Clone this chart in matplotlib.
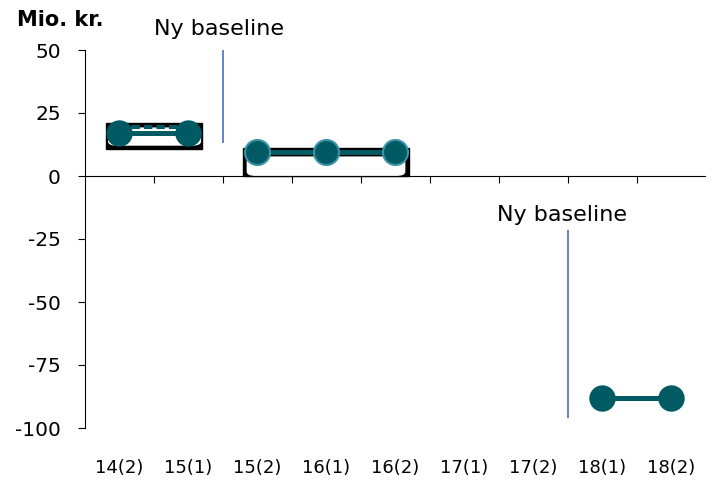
import matplotlib.pyplot as plt
from matplotlib.patches import Rectangle, FancyBboxPatch

plt.rcParams['font.family'] = ['DejaVu Sans']
plt.rcParams['axes.unicode_minus'] = False

cats = ["14(2)", "15(1)", "15(2)", "16(1)", "16(2)", "17(1)", "17(2)", "18(1)", "18(2)"]
seg1 = [17, 17]          # 14(2) - 15(1)
seg2 = [9.5, 9.5, 9.5]   # 15(2) - 16(2)
seg3 = [-88, -88]        # 18(1) - 18(2)
baselines = [1.5, 6.5]   # ny baseline mellem perioder
teal = "#005a64"
blue = "#4472c4"

fig = plt.figure(figsize=(7.17, 4.84), dpi=100)
ax = fig.add_axes([84.5 / 717, 1 - 428 / 484, (705.5 - 84.5) / 717, (428 - 50) / 484])
ax.set_xlim(-0.5, 8.5)
ax.set_ylim(-100, 50)

x = list(range(len(cats)))

# kasser bag de to foerste serier (som i originalen)
ax.add_patch(Rectangle((-0.19, 10.7), 1.4, 10.4, color="black", zorder=1))
ax.add_patch(FancyBboxPatch((-0.15, 12.3), 1.33, 6.7, boxstyle="round,pad=0,rounding_size=0.12",
                            mutation_aspect=12, color="white", zorder=2))
ax.add_patch(Rectangle((1.8, 0), 2.4, 11.1, color="black", zorder=1))
ax.add_patch(FancyBboxPatch((1.86, 0.3), 2.28, 7.2, boxstyle="round,pad=0,rounding_size=0.12",
                            mutation_aspect=12, color="white", zorder=2))

ax.plot(x[0:2], seg1, color=teal, lw=3.6, marker="o", ms=18, zorder=4)
ax.plot(x[0:2], [s + 2.5 for s in seg1], color=teal, lw=3, ls=(0, (2, 1)), zorder=3)
ax.plot(x[2:5], seg2, color=teal, lw=3.6, marker="o", ms=18, mec="#3b93a8", mew=1.5, zorder=4)
ax.plot(x[7:9], seg3, color=teal, lw=3.6, marker="o", ms=18, zorder=4)

ax.vlines(baselines[0], 13, 50, color=blue, lw=1.2)
ax.vlines(baselines[1], -96, -21.5, color=blue, lw=1.2)
ax.text(baselines[0] - 0.99, 54.5, "Ny baseline", fontsize=16, va="bottom", clip_on=False)
ax.text(baselines[1] - 1.02, -19.5, "Ny baseline", fontsize=16, va="bottom")

ax.axhline(0, color="black", lw=0.8)
ax.vlines([i + 0.5 for i in x[:-1]], -2.8, 0, color="black", lw=0.8)

for s in ["top", "right", "bottom"]:
    ax.spines[s].set_visible(False)
ax.spines["left"].set_linewidth(0.8)

ax.set_yticks([50, 25, 0, -25, -50, -75, -100])
ax.set_xticks(x)
ax.set_xticklabels(cats)
ax.tick_params(axis="x", length=0, pad=22, labelsize=13)
ax.tick_params(axis="y", length=5, width=0.8, labelsize=14.5, pad=12)

fig.text(17 / 717, 1 - 20 / 484, "Mio. kr.", fontsize=15, fontweight="bold", va="center")

fig.savefig("out.png", dpi=100)
